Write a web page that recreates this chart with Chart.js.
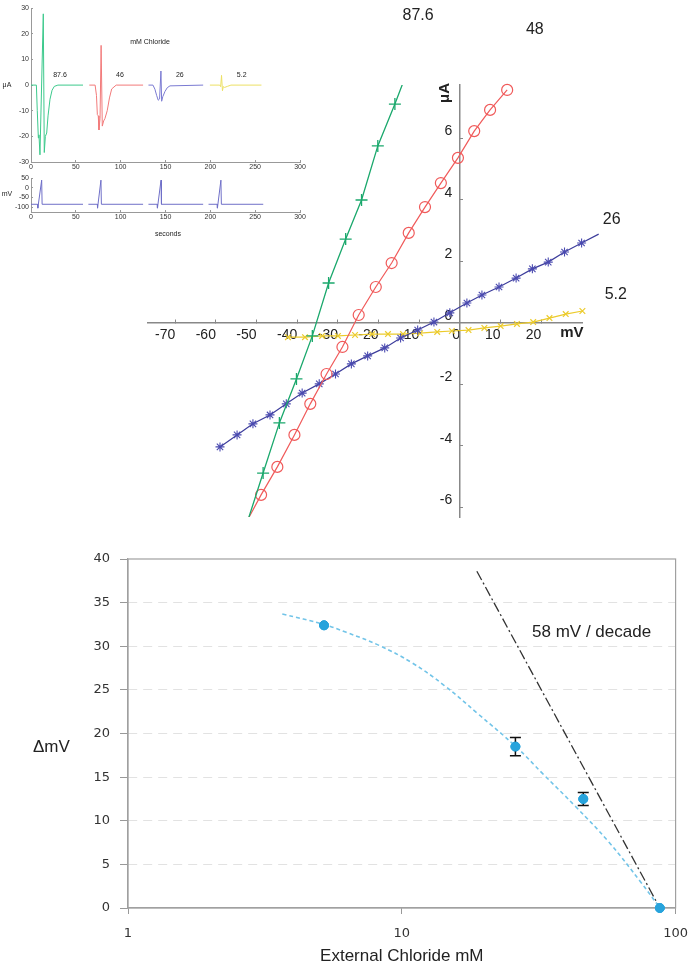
<!DOCTYPE html>
<html>
<head>
<meta charset="utf-8">
<script src="https://cdn.jsdelivr.net/npm/chart.js@4.4.0/dist/chart.umd.min.js"></script>
<style>
  body { margin: 0; background: #fff; }
  #wrap { position: relative; width: 700px; height: 964px; background: #fff; }
  canvas { position: absolute; }
</style>
</head>
<body>
<div id="wrap">
  <canvas id="iv" width="700" height="540" style="left:0;top:0"></canvas>
  <canvas id="trace" width="310" height="180" style="left:0;top:0"></canvas>
  <canvas id="volt" width="310" height="75" style="left:0;top:170px"></canvas>
  <canvas id="nernst" width="700" height="424" style="left:0;top:540px"></canvas>
</div>
<script>
// ---- inset: current traces (seconds, uA) ----
var tGreen = [0, 6, 7, 8.2, 8.9, 10, 13.7, 14.8, 16, 17.5, 19, 21.2, 23.5, 26, 30, 58];
var iGreen = [0, 0, -10, -20.6, -19.4, -27.2, 27.8, -26.3, -20, -18.7, -12, -5.5, -2, -0.5, 0, 0];
var tRed = [65, 71.5, 73, 74, 75, 75.8, 77, 78.2, 79.5, 81, 82.5, 85, 87.5, 90, 95, 125];
var iRed = [0, 0, -4, -11.5, -12, -17.5, -13, 15.5, -16, -14, -13, -10, -5, -1.5, 0, 0];
var tBlue = [131, 136, 138.2, 140.1, 141.9, 143.4, 144.9, 145.7, 147, 149.4, 152, 155, 192];
var iBlue = [0, 0, -1.6, -4, -5.9, -5.4, 5.5, -6.3, -4.5, -2.5, -1, -0.3, 0];
var tYellow = [199.5, 210.5, 211.5, 212.5, 213.5, 214.5, 216, 219, 223, 257];
var iYellow = [0, 0, -0.6, 3.8, -2.2, -0.6, -0.9, -0.5, 0, 0];

// ---- inset: voltage command (seconds, mV) ----
var tStep1 = [0, 7.4, 7.6, 11.9, 12.4, 58];
var tStep2 = [64, 74, 74.2, 78, 78.5, 125];
var tStep3 = [131, 140.8, 141, 145, 145.5, 192];
var tStep4 = [198, 207.7, 207.9, 211.8, 212.3, 259];
var vStep = [-85, -85, -105, 40, -85, -85];
var insetTicksT = [0, 50, 100, 150, 200, 250, 300];
var insetTicksI = [-30, -20, -10, 0, 10, 20, 30];
var insetTicksV = [-100, -50, 0, 50];

// ---- main I-V plot (mV, uA) ----
var v876 = [-16.0, -20.2, -24.2, -28.1, -32.3, -36.3, -40.2, -44.4, -48.4];
var i876 = [7.12, 5.76, 4.00, 2.73, 1.30, -0.42, -1.82, -3.25, -4.88];
var v876Ends = [-13.9, -52.1];
var i876Ends = [7.85, -6.4];

var v48 = [11.6, 7.4, 3.5, -0.5, -4.7, -8.6, -12.6, -16.8, -20.7, -24.9, -28.9, -32.8, -36.8, -40.7, -44.9, -48.9];
var i48 = [7.58, 6.93, 6.24, 5.37, 4.55, 3.77, 2.93, 1.95, 1.17, 0.26, -0.78, -1.66, -2.63, -3.64, -4.68, -5.59];
var v48End = -52.2;
var i48End = -6.4;

var v26 = [34.1, 29.9, 25.7, 21.7, 17.8, 13.8, 9.6, 5.4, 1.7, -2.5, -6.4, -10.4, -14.6, -18.5, -22.7, -26.7, -30.6, -34.6, -38.8, -42.7, -46.7, -50.9, -54.8, -59.0];
var i26 = [2.89, 2.60, 2.31, 1.98, 1.76, 1.46, 1.17, 0.91, 0.65, 0.33, 0.03, -0.23, -0.49, -0.81, -1.07, -1.33, -1.66, -1.98, -2.28, -2.63, -2.99, -3.28, -3.64, -4.03];

var v52 = [-42.3, -38.1, -33.9, -30.0, -25.8, -21.6, -17.7, -14.0, -9.8, -5.6, -2.0, 2.1, 6.0, 10.0, 14.0, 18.0, 22.0, 26.0, 30.1, 34.0];
var i52 = [-0.46, -0.46, -0.42, -0.42, -0.39, -0.36, -0.36, -0.36, -0.33, -0.29, -0.26, -0.23, -0.16, -0.10, -0.03, 0.03, 0.16, 0.29, 0.39, 0.55];

var ivTicksX = [-70, -60, -50, -40, -30, -20, -10, 0, 10, 20];
var ivTicksY = [-6, -4, -2, 0, 2, 4, 6];

// ---- bottom: reversal shift vs external chloride ----
var chlorideMM = [5.2, 26, 46, 87.6];
var deltaMV = [32.4, 18.5, 12.5, 0];
var deltaErr = [0.35, 1.05, 0.75, 0];
var fitCl = [3.66, 5.2, 6.27, 8.26, 10.9, 14.3, 18.9, 26.2, 32.7, 43.2, 56.9, 74.9, 87.6];
var fitMV = [33.7, 32.5, 31.6, 30.1, 28.1, 25.5, 22.3, 18.45, 15.4, 11.6, 7.6, 2.9, 0];
var nernstCl = [18.8, 87.6];
var nernstMV = [38.6, 0];
var clTicks = [1, 10, 100];

var SANS = '"Liberation Sans", Arial, Helvetica, sans-serif';

function pts(xs, ys) {
  var out = [];
  for (var i = 0; i < xs.length; i++) out.push({x: xs[i], y: ys[i]});
  return out;
}

function fixedTicks(values) {
  return function (s) {
    s.ticks = values.map(function (v) { return {value: v}; });
  };
}

// draws text notes placed in data coordinates
function notes(items) {
  return {
    id: 'notes',
    afterDraw: function (chart) {
      var ctx = chart.ctx;
      items.forEach(function (n) {
        var px = chart.scales.x.getPixelForValue(n.x);
        var py = chart.scales.y.getPixelForValue(n.y);
        ctx.save();
        ctx.font = n.font;
        ctx.fillStyle = n.color || '#222';
        ctx.textAlign = n.align || 'center';
        ctx.textBaseline = 'middle';
        ctx.translate(px, py);
        if (n.rotate) ctx.rotate(n.rotate);
        ctx.fillText(n.text, 0, 0);
        ctx.restore();
      });
    }
  };
}

Chart.defaults.animation = false;
Chart.defaults.font.family = SANS;
Chart.defaults.plugins.legend.display = false;
Chart.defaults.plugins.tooltip.enabled = false;

// ================= main I-V =================
var greenLine = [{x: v876Ends[0], y: i876Ends[0]}].concat(pts(v876, i876), [{x: v876Ends[1], y: i876Ends[1]}]);
var redLine = pts(v48, i48).concat([{x: v48End, y: i48End}]);

new Chart(document.getElementById('iv'), {
  type: 'scatter',
  data: {
    datasets: [
      {
        data: greenLine, showLine: true, borderColor: '#1aa86c', borderWidth: 1.3,
        pointStyle: 'cross', pointBorderColor: '#1aa86c', pointBorderWidth: 1.3,
        pointRadius: function (c) { return (c.dataIndex === 0 || c.dataIndex === greenLine.length - 1) ? 0 : 6; },
        clip: 0
      },
      {
        data: redLine, showLine: true, borderColor: '#f05a5a', borderWidth: 1.2,
        pointStyle: 'circle', pointBorderColor: '#f05a5a', pointBackgroundColor: 'rgba(0,0,0,0)', pointBorderWidth: 1.2,
        pointRadius: function (c) { return c.dataIndex === redLine.length - 1 ? 0 : 5.5; },
        clip: {left: 0, top: 8, right: 0, bottom: 0}
      },
      {
        data: pts(v26, i26), showLine: true, borderColor: '#3d3d9c', borderWidth: 1.2,
        pointStyle: 'star', pointBorderColor: '#4a4ab0', pointBorderWidth: 1.1, pointRadius: 4.5,
        clip: {left: 0, top: 0, right: false, bottom: 0}
      },
      {
        data: pts(v52, i52), showLine: true, borderColor: '#eccb2c', borderWidth: 1.2,
        pointStyle: 'crossRot', pointBorderColor: '#eccb2c', pointBorderWidth: 1.2, pointRadius: 4,
        clip: {left: 0, top: 0, right: false, bottom: 0}
      }
    ]
  },
  options: {
    responsive: false,
    layout: {padding: {left: 148, right: 118, top: 85, bottom: 23}},
    scales: {
      x: {
        type: 'linear', min: -76.7, max: 30, position: {y: 0},
        afterBuildTicks: fixedTicks(ivTicksX),
        ticks: {align: 'end', padding: 8, autoSkip: false, color: '#222', font: {size: 14}},
        grid: {drawOnChartArea: false, tickLength: -4, color: '#888'},
        border: {color: '#888', width: 1.5}
      },
      y: {
        type: 'linear', min: -6.31, max: 7.74, position: {x: 0},
        afterBuildTicks: fixedTicks(ivTicksY),
        ticks: {align: 'end', padding: 12, autoSkip: false, color: '#222', font: {size: 14},
                callback: function (v) { return v + '  '; }},
        grid: {drawOnChartArea: false, tickLength: -4, color: '#888'},
        border: {color: '#888', width: 1.5}
      }
    }
  },
  plugins: [notes([
    {text: '87.6', x: -10.3, y: 10.0, font: '16px ' + SANS},
    {text: '48', x: 18.4, y: 9.53, font: '16px ' + SANS},
    {text: '26', x: 37.3, y: 3.35, font: '16px ' + SANS},
    {text: '5.2', x: 38.3, y: 0.91, font: '16px ' + SANS},
    {text: 'mV', x: 27.5, y: -0.33, font: 'bold 15px ' + SANS},
    {text: '\u03bcA', x: -3.7, y: 7.48, font: 'bold 15px ' + SANS, rotate: -Math.PI / 2}
  ])]
});

// ================= inset: current traces =================
function insetScaleX(height) {
  return {
    type: 'linear', min: 0, max: 300,
    afterBuildTicks: fixedTicks(insetTicksT),
    afterFit: function (s) { s.height = height; },
    ticks: {padding: 3, autoSkip: false, color: '#333', font: {size: 7}},
    grid: {drawOnChartArea: false, tickLength: -2, color: '#999'},
    border: {color: '#999', width: 1}
  };
}

new Chart(document.getElementById('trace'), {
  type: 'scatter',
  data: {
    datasets: [
      {data: pts(tGreen, iGreen), showLine: true, borderColor: '#3cc98c', borderWidth: 1, pointRadius: 0},
      {data: pts(tRed, iRed), showLine: true, borderColor: '#f27a7a', borderWidth: 1, pointRadius: 0},
      {data: pts(tBlue, iBlue), showLine: true, borderColor: '#7a7ad2', borderWidth: 1, pointRadius: 0},
      {data: pts(tYellow, iYellow), showLine: true, borderColor: '#ece064', borderWidth: 1, pointRadius: 0}
    ]
  },
  options: {
    responsive: false,
    layout: {padding: {left: 0, right: 10, top: 3, bottom: 0}},
    scales: {
      x: insetScaleX(18),
      y: {
        type: 'linear', min: -30, max: 30,
        afterBuildTicks: fixedTicks(insetTicksI),
        afterFit: function (s) { s.width = 31; },
        ticks: {padding: 4, autoSkip: false, color: '#333', font: {size: 7}},
        grid: {drawOnChartArea: false, tickLength: -2, color: '#999'},
        border: {color: '#999', width: 1}
      }
    }
  },
  plugins: [notes([
    {text: 'mM Chloride', x: 132.7, y: 16.6, font: '7px ' + SANS},
    {text: '87.6', x: 32.3, y: 3.8, font: '7px ' + SANS},
    {text: '46', x: 99.2, y: 3.8, font: '7px ' + SANS},
    {text: '26', x: 166, y: 3.8, font: '7px ' + SANS},
    {text: '5.2', x: 235, y: 3.8, font: '7px ' + SANS},
    {text: '\u03bcA', x: -26.8, y: 0, font: '7px ' + SANS}
  ])]
});

// ================= inset: voltage steps =================
var stepColor = '#6f6fc8';
new Chart(document.getElementById('volt'), {
  type: 'scatter',
  data: {
    datasets: [tStep1, tStep2, tStep3, tStep4].map(function (t) {
      return {data: pts(t, vStep), showLine: true, borderColor: stepColor, borderWidth: 1, pointRadius: 0};
    })
  },
  options: {
    responsive: false,
    layout: {padding: {left: 0, right: 10, top: 7, bottom: 0}},
    scales: {
      x: insetScaleX(33),
      y: {
        type: 'linear', min: -125, max: 50,
        afterBuildTicks: fixedTicks(insetTicksV),
        afterFit: function (s) { s.width = 31; },
        ticks: {padding: 4, autoSkip: false, color: '#333', font: {size: 7}},
        grid: {drawOnChartArea: false, tickLength: -2, color: '#999'},
        border: {color: '#999', width: 1}
      }
    }
  },
  plugins: [notes([
    {text: 'mV', x: -26.8, y: -30, font: '7px ' + SANS},
    {text: 'seconds', x: 152.7, y: -240, font: '7px ' + SANS}
  ])]
});

// ================= bottom: delta mV vs chloride =================
var VERA = '"DejaVu Sans", Verdana, sans-serif';

var frame = {
  id: 'frame',
  beforeDatasetsDraw: function (chart) {
    var a = chart.chartArea, ctx = chart.ctx;
    ctx.save();
    ctx.strokeStyle = '#a0a0a0';
    ctx.lineWidth = 1.2;
    ctx.strokeRect(a.left, a.top, a.right - a.left, a.bottom - a.top);
    ctx.restore();
  }
};

var errorBars = {
  id: 'errorBars',
  afterDatasetsDraw: function (chart) {
    var xs = chart.scales.x, ys = chart.scales.y, ctx = chart.ctx;
    ctx.save();
    ctx.strokeStyle = '#111';
    ctx.lineWidth = 1.5;
    for (var i = 0; i < chlorideMM.length; i++) {
      if (!deltaErr[i]) continue;
      var px = xs.getPixelForValue(chlorideMM[i]);
      var hi = ys.getPixelForValue(deltaMV[i] + deltaErr[i]);
      var lo = ys.getPixelForValue(deltaMV[i] - deltaErr[i]);
      var cap = deltaErr[i] > 0.5 ? 5.5 : 3;
      ctx.beginPath();
      ctx.moveTo(px, hi); ctx.lineTo(px, lo);
      ctx.moveTo(px - cap, hi); ctx.lineTo(px + cap, hi);
      ctx.moveTo(px - cap, lo); ctx.lineTo(px + cap, lo);
      ctx.stroke();
    }
    ctx.restore();
    // points back on top of the bars
    var meta = chart.getDatasetMeta(0);
    meta.data.forEach(function (el) { el.draw(ctx, chart.chartArea); });
  }
};

new Chart(document.getElementById('nernst'), {
  type: 'scatter',
  data: {
    datasets: [
      {data: pts(chlorideMM, deltaMV), pointStyle: 'circle', pointRadius: 4.5,
       pointBackgroundColor: '#27a3dc', pointBorderColor: '#27a3dc', clip: false},
      {data: pts(fitCl, fitMV), showLine: true, borderColor: '#72c4e8', borderWidth: 1.6,
       borderDash: [4, 3], pointRadius: 0, tension: 0.4},
      {data: pts(nernstCl, nernstMV), showLine: true, borderColor: '#333', borderWidth: 1.3,
       borderDash: [10, 3, 2, 3], pointRadius: 0}
    ]
  },
  options: {
    responsive: false,
    layout: {padding: {left: 0, right: 15, top: 19, bottom: 0}},
    scales: {
      x: {
        type: 'logarithmic', min: 1, max: 100,
        afterBuildTicks: fixedTicks(clTicks),
        afterFit: function (s) { s.height = 56; },
        ticks: {padding: 12, autoSkip: false, color: '#333', font: {family: VERA, size: 13},
                callback: function (v) { return String(v); }},
        grid: {drawOnChartArea: false, tickLength: 6, tickColor: '#999'},
        border: {color: '#a0a0a0', width: 1.2},
        title: {display: true, text: 'External Chloride mM', color: '#222',
                font: {family: SANS, size: 17, lineHeight: 0.9}, padding: {top: 0, bottom: 0}}
      },
      y: {
        type: 'linear', min: 0, max: 40,
        afterFit: function (s) { s.width = 128; },
        ticks: {stepSize: 5, padding: 10, color: '#333', font: {family: VERA, size: 13}},
        grid: {
          color: function (c) { return (c.tick && (c.tick.value === 0 || c.tick.value === 40)) ? 'rgba(0,0,0,0)' : '#e2e2e2'; },
          tickColor: '#999', tickLength: 8
        },
        border: {color: '#a0a0a0', width: 1.2, dash: [9, 6]}
      }
    }
  },
  plugins: [frame, errorBars, notes([
    {text: '\u0394mV', x: 0.525, y: 18.45, font: '17px ' + SANS},
    {text: '58 mV / decade', x: 29.9, y: 31.6, font: '17px ' + SANS, align: 'left'}
  ])]
});
</script>
</body>
</html>
